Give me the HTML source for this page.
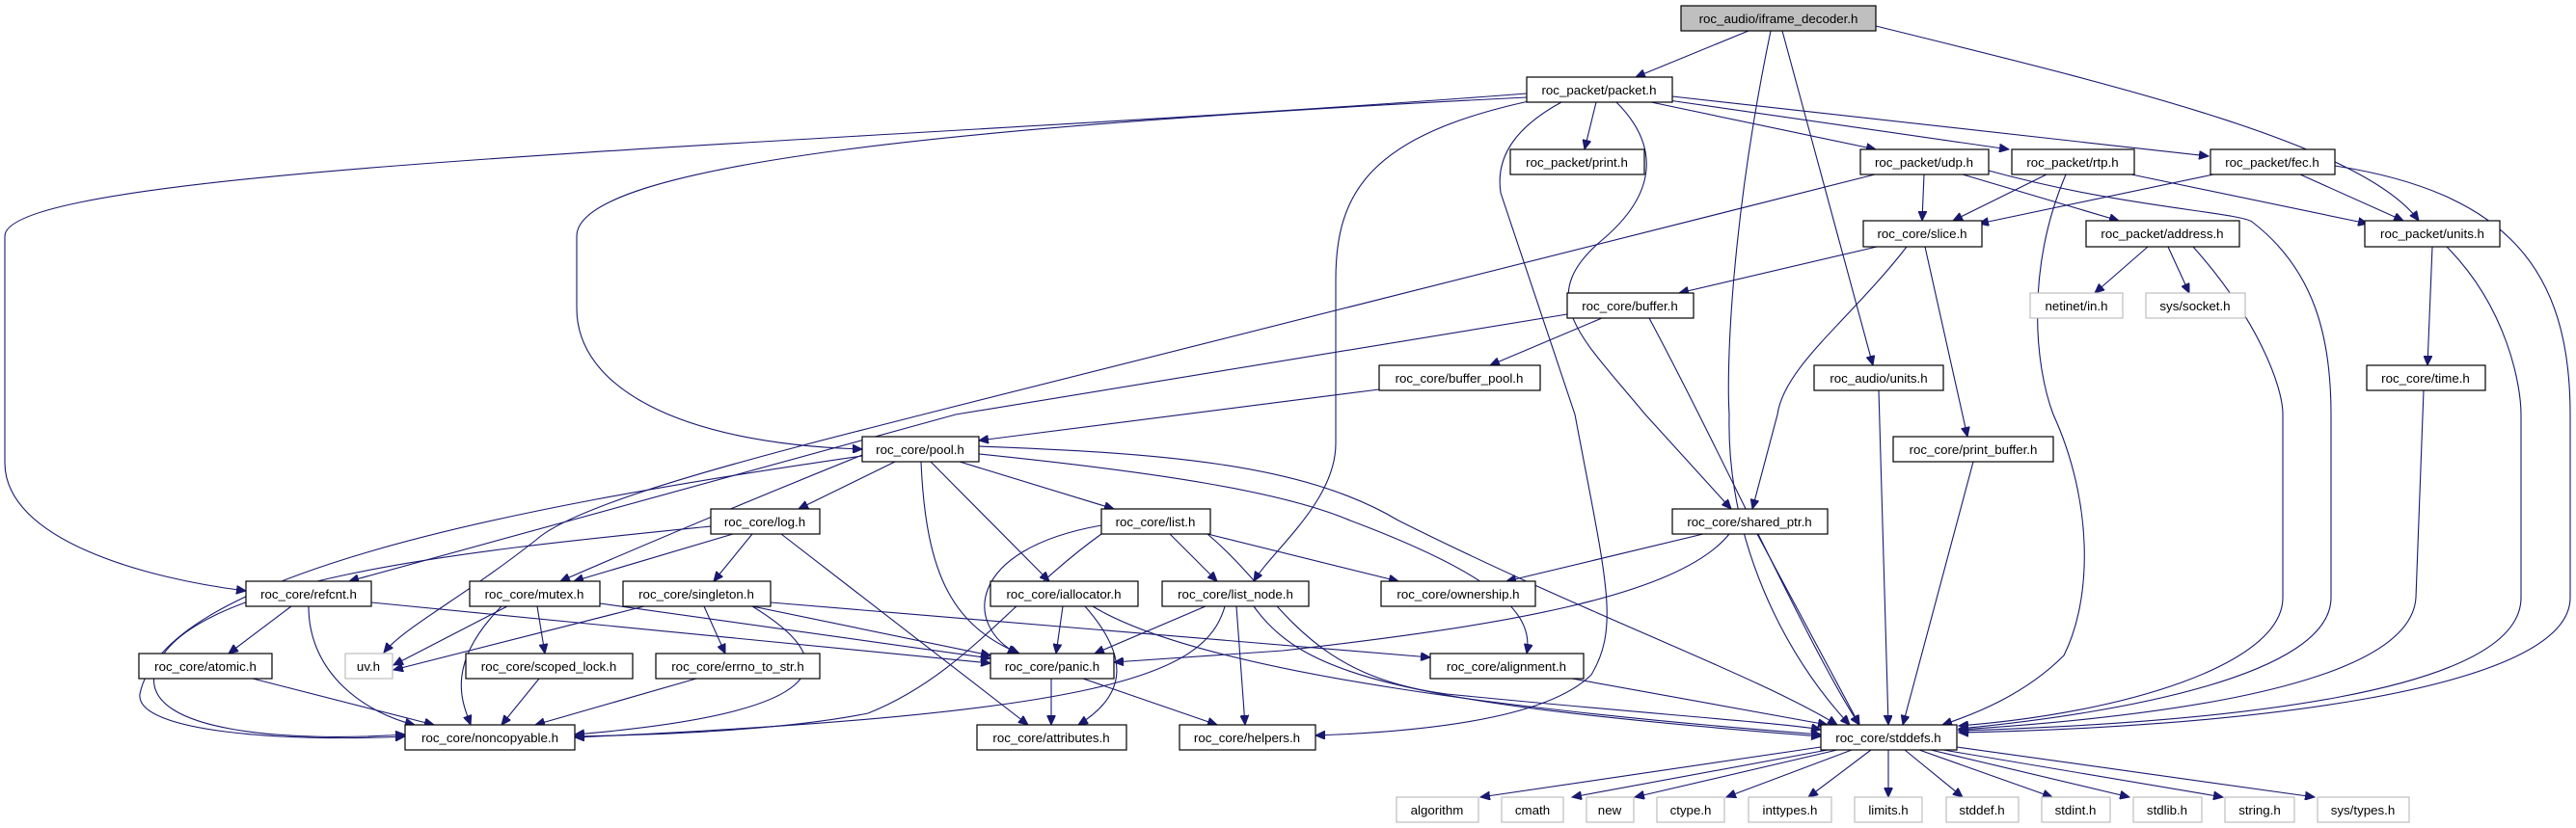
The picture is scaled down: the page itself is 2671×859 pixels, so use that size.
<!DOCTYPE html>
<html><head><meta charset="utf-8"><style>
html,body{margin:0;padding:0;background:#fff;}
svg{display:block;}
.n rect{fill:#fff;stroke:#000;stroke-width:1.2;}
.g rect{fill:#fff;stroke:#bfbfbf;stroke-width:1.2;}
text{font-family:"Liberation Sans",sans-serif;font-size:13.3px;fill:#000;text-anchor:middle;}
.e path{fill:none;stroke:#191970;stroke-width:1.1;}
</style></head><body>
<svg width="2671" height="859" viewBox="0 0 2671 859" xmlns="http://www.w3.org/2000/svg">
<defs><marker id="a" markerUnits="userSpaceOnUse" markerWidth="11" markerHeight="9" refX="10" refY="4.5" orient="auto"><path d="M0,0 L10,4.5 L0,9 z" fill="#191970" stroke="#191970"/></marker></defs>
<g class="e" marker-end="url(#a)">
<path d="M1813,32 L1696,80" marker-end="url(#a)"/>
<path d="M1836,32 C1795,230 1790,380 1793,430 C1790,560 1850,680 1918,752" marker-end="url(#a)"/>
<path d="M1848,32 L1942,379" marker-end="url(#a)"/>
<path d="M1945,27 C2200,90 2450,150 2508,229" marker-end="url(#a)"/>
<path d="M1583,97 C900,150 5,170 5,245 L5,480 C5,560 150,600 255,613" marker-end="url(#a)"/>
<path d="M1583,101 C1000,130 598,170 598,245 L598,320 C598,400 700,460 894,466" marker-end="url(#a)"/>
<path d="M1655,106 L1643,155" marker-end="url(#a)"/>
<path d="M1712,106 L1945,155" marker-end="url(#a)"/>
<path d="M1730,104 L2083,155" marker-end="url(#a)"/>
<path d="M1734,100 L2290,162" marker-end="url(#a)"/>
<path d="M1590,104 C1420,140 1385,200 1385,290 L1385,460 C1385,520 1320,570 1300,603" marker-end="url(#a)"/>
<path d="M1619,106 C1575,130 1550,160 1556,200 L1633,430 C1665,600 1680,650 1650,700 C1600,750 1450,760 1364,763" marker-end="url(#a)"/>
<path d="M1676,106 C1720,150 1720,200 1660,250 C1590,310 1640,350 1706,430 L1795,528" marker-end="url(#a)"/>
<path d="M1995,181 L1993,229" marker-end="url(#a)"/>
<path d="M2035,181 L2197,229" marker-end="url(#a)"/>
<path d="M2062,177 C2200,215 2320,220 2335,230 C2400,280 2417,350 2417,430 L2417,620 C2417,700 2200,740 2031,756" marker-end="url(#a)"/>
<path d="M1944,181 L957,430 C800,470 600,520 556,560 C480,620 420,650 398,677" marker-end="url(#a)"/>
<path d="M2122,181 L2025,229" marker-end="url(#a)"/>
<path d="M2210,181 L2455,232" marker-end="url(#a)"/>
<path d="M2142,181 C2100,280 2110,380 2129,430 C2170,520 2170,620 2140,680 C2100,720 2050,740 2014,752" marker-end="url(#a)"/>
<path d="M2295,181 L2052,232" marker-end="url(#a)"/>
<path d="M2385,181 L2492,229" marker-end="url(#a)"/>
<path d="M2421,172 C2600,200 2665,280 2665,430 L2665,620 C2665,720 2300,755 2031,760" marker-end="url(#a)"/>
<path d="M2522,256 L2517,379" marker-end="url(#a)"/>
<path d="M2537,256 C2600,320 2614,400 2614,430 L2614,620 C2614,720 2300,750 2031,758" marker-end="url(#a)"/>
<path d="M1946,256 L1741,304" marker-end="url(#a)"/>
<path d="M1977,256 C1920,330 1850,380 1843,430 L1817,528" marker-end="url(#a)"/>
<path d="M1996,256 L2040,453" marker-end="url(#a)"/>
<path d="M2227,256 L2172,304" marker-end="url(#a)"/>
<path d="M2248,256 L2270,304" marker-end="url(#a)"/>
<path d="M2274,256 C2340,330 2367,400 2367,430 L2367,620 C2367,690 2200,740 2031,753" marker-end="url(#a)"/>
<path d="M1661,330 L1545,379" marker-end="url(#a)"/>
<path d="M1710,330 C1790,480 1880,680 1928,752" marker-end="url(#a)"/>
<path d="M1625,326 L991,430 L362,603" marker-end="url(#a)"/>
<path d="M1430,404 L1015,457" marker-end="url(#a)"/>
<path d="M1948,405 L1958,752" marker-end="url(#a)"/>
<path d="M2513,405 L2505,620 C2500,700 2300,740 2031,757" marker-end="url(#a)"/>
<path d="M2046,479 L1973,752" marker-end="url(#a)"/>
<path d="M1766,554 L1562,603" marker-end="url(#a)"/>
<path d="M1793,554 C1740,620 1550,650 1330,675 L1155,687" marker-end="url(#a)"/>
<path d="M1822,554 L1928,752" marker-end="url(#a)"/>
<path d="M928,479 L828,528" marker-end="url(#a)"/>
<path d="M995,479 L1155,528" marker-end="url(#a)"/>
<path d="M894,472 C800,510 680,560 581,603" marker-end="url(#a)"/>
<path d="M894,473 C500,530 170,600 145,720 C140,760 300,770 420,764" marker-end="url(#a)"/>
<path d="M955,479 C960,600 990,650 1057,678" marker-end="url(#a)"/>
<path d="M965,479 L1088,603" marker-end="url(#a)"/>
<path d="M1015,471 C1200,490 1330,510 1400,540 C1560,600 1590,640 1583,678" marker-end="url(#a)"/>
<path d="M1015,463 C1200,470 1350,480 1450,540 C1650,640 1820,700 1905,752" marker-end="url(#a)"/>
<path d="M760,554 L595,603" marker-end="url(#a)"/>
<path d="M780,554 L740,603" marker-end="url(#a)"/>
<path d="M810,554 L1066,752" marker-end="url(#a)"/>
<path d="M737,546 C500,570 180,600 160,700 C150,760 300,770 420,762" marker-end="url(#a)"/>
<path d="M1213,554 L1262,603" marker-end="url(#a)"/>
<path d="M1252,554 L1450,603" marker-end="url(#a)"/>
<path d="M1142,545 C1000,570 1000,650 1055,678" marker-end="url(#a)"/>
<path d="M1142,554 C1050,620 1000,700 900,740 C800,760 650,763 596,764" marker-end="url(#a)"/>
<path d="M1252,554 C1330,620 1350,700 1500,720 C1700,740 1850,750 1888,757" marker-end="url(#a)"/>
<path d="M302,629 L237,678" marker-end="url(#a)"/>
<path d="M320,629 C320,700 380,740 430,752" marker-end="url(#a)"/>
<path d="M385,625 L1027,688" marker-end="url(#a)"/>
<path d="M526,629 L408,690" marker-end="url(#a)"/>
<path d="M557,629 L565,678" marker-end="url(#a)"/>
<path d="M520,629 C460,690 480,730 488,752" marker-end="url(#a)"/>
<path d="M622,626 L1027,683" marker-end="url(#a)"/>
<path d="M668,629 L408,695" marker-end="url(#a)"/>
<path d="M730,629 L752,678" marker-end="url(#a)"/>
<path d="M780,629 L1027,680" marker-end="url(#a)"/>
<path d="M780,629 C880,690 860,740 596,762" marker-end="url(#a)"/>
<path d="M799,625 L1483,682" marker-end="url(#a)"/>
<path d="M1102,629 L1095,678" marker-end="url(#a)"/>
<path d="M1125,629 C1170,680 1170,720 1118,752" marker-end="url(#a)"/>
<path d="M1133,629 C1250,700 1600,740 1888,762" marker-end="url(#a)"/>
<path d="M1250,629 L1135,678" marker-end="url(#a)"/>
<path d="M1282,629 L1291,752" marker-end="url(#a)"/>
<path d="M1270,629 C1250,700 1150,740 596,765" marker-end="url(#a)"/>
<path d="M1300,629 C1350,700 1450,730 1888,764" marker-end="url(#a)"/>
<path d="M262,704 L450,752" marker-end="url(#a)"/>
<path d="M559,704 L520,752" marker-end="url(#a)"/>
<path d="M722,704 L555,752" marker-end="url(#a)"/>
<path d="M1090,704 L1090,752" marker-end="url(#a)"/>
<path d="M1123,704 L1262,752" marker-end="url(#a)"/>
<path d="M1630,704 L1895,752" marker-end="url(#a)"/>
<path d="M1888,775 L1535,827" marker-end="url(#a)"/>
<path d="M1895,778 L1630,827" marker-end="url(#a)"/>
<path d="M1905,778 L1695,827" marker-end="url(#a)"/>
<path d="M1920,778 L1790,827" marker-end="url(#a)"/>
<path d="M1940,778 L1875,827" marker-end="url(#a)"/>
<path d="M1958,778 L1958,827" marker-end="url(#a)"/>
<path d="M1975,778 L2035,827" marker-end="url(#a)"/>
<path d="M1990,778 L2128,827" marker-end="url(#a)"/>
<path d="M2002,778 L2208,827" marker-end="url(#a)"/>
<path d="M2015,778 L2305,827" marker-end="url(#a)"/>
<path d="M2029,775 L2400,827" marker-end="url(#a)"/>
</g>
<g class="n"><rect x="1743" y="6" width="202" height="26" style="fill:#bfbfbf"/><text x="1844" y="24">roc_audio/iframe_decoder.h</text></g>
<g class="n"><rect x="1583" y="80" width="151" height="26"/><text x="1658" y="98">roc_packet/packet.h</text></g>
<g class="n"><rect x="1566" y="155" width="139" height="26"/><text x="1635" y="173">roc_packet/print.h</text></g>
<g class="n"><rect x="1929" y="155" width="133" height="26"/><text x="1995" y="173">roc_packet/udp.h</text></g>
<g class="n"><rect x="2086" y="155" width="127" height="26"/><text x="2149" y="173">roc_packet/rtp.h</text></g>
<g class="n"><rect x="2292" y="155" width="129" height="26"/><text x="2356" y="173">roc_packet/fec.h</text></g>
<g class="n"><rect x="1932" y="229" width="123" height="27"/><text x="1993" y="247">roc_core/slice.h</text></g>
<g class="n"><rect x="2163" y="229" width="159" height="27"/><text x="2242" y="247">roc_packet/address.h</text></g>
<g class="n"><rect x="2452" y="229" width="140" height="27"/><text x="2522" y="247">roc_packet/units.h</text></g>
<g class="n"><rect x="1625" y="304" width="131" height="26"/><text x="1690" y="322">roc_core/buffer.h</text></g>
<g class="g"><rect x="2105" y="304" width="96" height="26"/><text x="2153" y="322">netinet/in.h</text></g>
<g class="g"><rect x="2225" y="304" width="103" height="26"/><text x="2276" y="322">sys/socket.h</text></g>
<g class="n"><rect x="1430" y="379" width="167" height="26"/><text x="1513" y="397">roc_core/buffer_pool.h</text></g>
<g class="n"><rect x="1881" y="379" width="134" height="26"/><text x="1948" y="397">roc_audio/units.h</text></g>
<g class="n"><rect x="2454" y="379" width="123" height="26"/><text x="2515" y="397">roc_core/time.h</text></g>
<g class="n"><rect x="894" y="453" width="121" height="26"/><text x="954" y="471">roc_core/pool.h</text></g>
<g class="n"><rect x="1963" y="453" width="166" height="26"/><text x="2046" y="471">roc_core/print_buffer.h</text></g>
<g class="n"><rect x="737" y="528" width="113" height="26"/><text x="793" y="546">roc_core/log.h</text></g>
<g class="n"><rect x="1142" y="528" width="113" height="26"/><text x="1198" y="546">roc_core/list.h</text></g>
<g class="n"><rect x="1734" y="528" width="161" height="26"/><text x="1814" y="546">roc_core/shared_ptr.h</text></g>
<g class="n"><rect x="255" y="603" width="130" height="26"/><text x="320" y="621">roc_core/refcnt.h</text></g>
<g class="n"><rect x="487" y="603" width="135" height="26"/><text x="554" y="621">roc_core/mutex.h</text></g>
<g class="n"><rect x="646" y="603" width="153" height="26"/><text x="722" y="621">roc_core/singleton.h</text></g>
<g class="n"><rect x="1027" y="603" width="153" height="26"/><text x="1103" y="621">roc_core/iallocator.h</text></g>
<g class="n"><rect x="1205" y="603" width="152" height="26"/><text x="1281" y="621">roc_core/list_node.h</text></g>
<g class="n"><rect x="1432" y="603" width="160" height="26"/><text x="1512" y="621">roc_core/ownership.h</text></g>
<g class="n"><rect x="144" y="678" width="138" height="26"/><text x="213" y="696">roc_core/atomic.h</text></g>
<g class="g"><rect x="358" y="678" width="49" height="26"/><text x="382" y="696">uv.h</text></g>
<g class="n"><rect x="483" y="678" width="173" height="26"/><text x="569" y="696">roc_core/scoped_lock.h</text></g>
<g class="n"><rect x="680" y="678" width="170" height="26"/><text x="765" y="696">roc_core/errno_to_str.h</text></g>
<g class="n"><rect x="1027" y="678" width="128" height="26"/><text x="1091" y="696">roc_core/panic.h</text></g>
<g class="n"><rect x="1483" y="678" width="159" height="26"/><text x="1562" y="696">roc_core/alignment.h</text></g>
<g class="n"><rect x="420" y="752" width="176" height="26"/><text x="508" y="770">roc_core/noncopyable.h</text></g>
<g class="n"><rect x="1013" y="752" width="155" height="26"/><text x="1090" y="770">roc_core/attributes.h</text></g>
<g class="n"><rect x="1223" y="752" width="141" height="26"/><text x="1293" y="770">roc_core/helpers.h</text></g>
<g class="n"><rect x="1888" y="752" width="141" height="26"/><text x="1958" y="770">roc_core/stddefs.h</text></g>
<g class="g"><rect x="1448" y="827" width="85" height="26"/><text x="1490" y="845">algorithm</text></g>
<g class="g"><rect x="1557" y="827" width="64" height="26"/><text x="1589" y="845">cmath</text></g>
<g class="g"><rect x="1645" y="827" width="49" height="26"/><text x="1669" y="845">new</text></g>
<g class="g"><rect x="1718" y="827" width="70" height="26"/><text x="1753" y="845">ctype.h</text></g>
<g class="g"><rect x="1813" y="827" width="86" height="26"/><text x="1856" y="845">inttypes.h</text></g>
<g class="g"><rect x="1923" y="827" width="70" height="26"/><text x="1958" y="845">limits.h</text></g>
<g class="g"><rect x="2018" y="827" width="75" height="26"/><text x="2055" y="845">stddef.h</text></g>
<g class="g"><rect x="2117" y="827" width="71" height="26"/><text x="2152" y="845">stdint.h</text></g>
<g class="g"><rect x="2212" y="827" width="71" height="26"/><text x="2247" y="845">stdlib.h</text></g>
<g class="g"><rect x="2307" y="827" width="72" height="26"/><text x="2343" y="845">string.h</text></g>
<g class="g"><rect x="2403" y="827" width="95" height="26"/><text x="2450" y="845">sys/types.h</text></g>
</svg>
</body></html>
